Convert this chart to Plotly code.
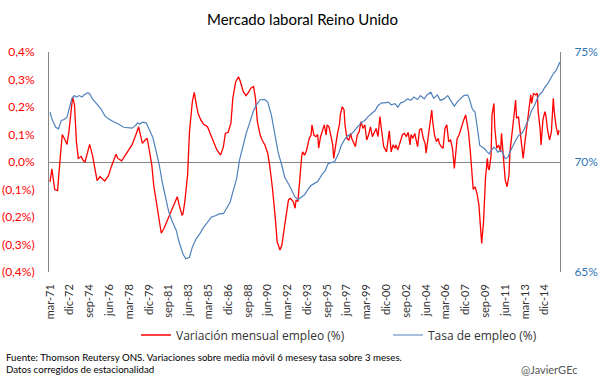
import pandas as pd
import plotly.graph_objects as go

# ---------------- DATA ----------------
start_month = "1971-03-01"

# months since Mar-1971 and monthly employment change (%) — red series
var_months = [0, 2, 5, 8, 11, 13, 16, 18, 20, 24, 26, 28, 30, 33, 35, 37, 40, 42, 45, 48,
              50, 53, 55, 58, 62, 65, 70, 72, 76, 80, 84, 87, 91, 94, 96, 98, 101, 103, 105, 108,
              110, 113, 116, 118, 121, 124, 127, 130, 133, 135, 137, 140, 141, 143, 146, 148, 151, 153, 155, 157,
              160, 163, 167, 170, 174, 177, 181, 184, 186, 189, 192, 194, 197, 200, 202, 205, 208, 210, 213, 216,
              218, 220, 223, 225, 228, 231, 233, 236, 239, 241, 244, 246, 248, 251, 253, 255, 258, 260, 261, 263,
              265, 267, 268, 270, 272, 275, 277, 278, 280, 282, 284, 285, 287, 289, 291, 293, 294, 296, 298, 300,
              301, 303, 305, 307, 308, 310, 312, 313, 315, 317, 319, 320, 322, 324, 326, 328, 330, 332, 334, 336,
              338, 340, 342, 344, 346, 348, 350, 352, 354, 357, 359, 360, 362, 364, 366, 367, 369, 371, 373, 374,
              376, 378, 380, 382, 383, 385, 387, 389, 390, 392, 394, 396, 398, 399, 401, 403, 405, 406, 408, 410,
              412, 413, 415, 417, 419, 421, 423, 425, 427, 429, 430, 432, 434, 436, 437, 439, 441, 442, 444, 446,
              448, 449, 451, 453, 455, 457, 458, 460, 462, 464, 465, 466, 468, 469, 471, 472, 474, 476, 478, 479,
              481, 483, 485, 487, 488, 490, 492, 494, 495, 497, 499, 501, 502, 504, 506, 508, 510, 511, 513, 515,
              517, 518, 520, 521, 523, 525, 526, 528, 530, 532, 534, 535, 537, 539, 540]
var_values = [-0.072, -0.025, -0.100, -0.104, 0.025, 0.100, 0.080, 0.064, 0.110, 0.237, 0.207, 0.074, 0.013, 0.020, 0.007, -0.001, 0.037, 0.064, 0.025, -0.041,
              -0.068, -0.053, -0.059, -0.069, -0.050, -0.017, 0.028, 0.013, 0.004, 0.025, 0.047, 0.062, 0.098, 0.128, 0.098, 0.068, 0.080, 0.086, 0.050, -0.011,
              -0.084, -0.156, -0.229, -0.259, -0.241, -0.217, -0.193, -0.168, -0.144, -0.126, -0.156, -0.193, -0.190, -0.144, -0.047, 0.110, 0.219, 0.253, 0.213, 0.177,
              0.153, 0.137, 0.128, 0.104, 0.074, 0.044, 0.025, 0.056, 0.104, 0.108, 0.141, 0.232, 0.292, 0.310, 0.292, 0.256, 0.241, 0.250, 0.268, 0.274,
              0.232, 0.147, 0.098, 0.080, 0.062, 0.032, -0.011, -0.096, -0.205, -0.290, -0.320, -0.302, -0.253, -0.181, -0.138, -0.132, -0.144, -0.168, -0.138, -0.144,
              -0.059, 0.020, 0.037, 0.025, 0.040, 0.086, 0.098, 0.135, 0.098, 0.092, 0.100, 0.050, 0.092, 0.116, 0.135, 0.098, 0.135, 0.128, 0.092, 0.062,
              0.013, 0.068, 0.104, 0.135, 0.171, 0.201, 0.189, 0.135, 0.086, 0.080, 0.104, 0.086, 0.068, 0.056, 0.098, 0.110, 0.147, 0.122, 0.135, 0.080,
              0.098, 0.128, 0.092, 0.110, 0.122, 0.092, 0.165, 0.110, 0.056, 0.037, 0.092, 0.113, 0.037, 0.062, 0.050, 0.062, 0.044, 0.068, 0.086, 0.100,
              0.104, 0.092, 0.108, 0.062, 0.100, 0.086, 0.104, 0.074, 0.056, 0.116, 0.122, 0.086, 0.068, 0.032, 0.086, 0.147, 0.189, 0.147, 0.098, 0.074,
              0.086, 0.068, 0.056, 0.050, 0.122, 0.135, 0.074, 0.080, 0.050, -0.023, 0.025, 0.086, 0.098, 0.122, 0.135, 0.153, 0.171, 0.147, 0.110, 0.037,
              -0.059, -0.100, -0.090, -0.114, -0.156, -0.229, -0.296, -0.217, -0.059, 0.013, -0.023, -0.029, 0.025, 0.171, 0.213, 0.122, 0.050, 0.062, 0.037, 0.104,
              0.025, -0.065, -0.090, -0.047, 0.037, 0.110, 0.159, 0.225, 0.159, 0.165, 0.098, 0.037, 0.013, 0.074, 0.135, 0.183, 0.244, 0.213, 0.250, 0.244,
              0.250, 0.183, 0.122, 0.062, 0.153, 0.183, 0.171, 0.116, 0.080, 0.110, 0.232, 0.183, 0.128, 0.098, 0.116]

# months since Mar-1971 and employment rate (%) — blue series
rate_months = [0, 2, 6, 9, 12, 15, 18, 20, 23, 26, 28, 31, 34, 36, 40, 42, 45, 48, 51, 54,
               58, 62, 67, 72, 78, 83, 87, 90, 93, 95, 98, 102, 105, 109, 112, 116, 119, 123, 126, 130,
               134, 137, 141, 144, 148, 151, 155, 159, 163, 167, 171, 176, 180, 184, 187, 191, 194, 198, 201, 205,
               208, 212, 216, 219, 223, 228, 231, 235, 239, 242, 246, 249, 253, 256, 260, 263, 267, 270, 274, 277,
               281, 284, 288, 292, 295, 299, 302, 306, 309, 313, 316, 320, 323, 327, 330, 334, 337, 341, 345, 348,
               352, 355, 359, 362, 366, 369, 372, 376, 379, 383, 386, 390, 393, 397, 400, 404, 407, 411, 414, 418,
               422, 425, 429, 432, 436, 439, 443, 445, 448, 451, 453, 456, 459, 461, 464, 466, 468, 471, 473, 475,
               478, 480, 483, 486, 488, 491, 494, 497, 500, 502, 505, 508, 511, 514, 517, 519, 522, 525, 528, 531,
               534, 537, 539, 541]
rate_values = [72.26, 71.96, 71.58, 71.51, 71.89, 71.93, 72.04, 72.34, 72.87, 73.02, 72.95, 73.02, 72.95, 73.05, 73.15, 73.10, 72.87, 72.72, 72.57, 72.42,
               72.11, 71.96, 71.84, 71.74, 71.58, 71.54, 71.54, 71.63, 71.78, 71.72, 71.81, 71.78, 71.51, 71.13, 70.60, 69.84, 69.08, 68.33, 67.72, 67.26,
               66.89, 66.35, 65.83, 65.60, 65.67, 66.13, 66.51, 66.74, 67.04, 67.26, 67.49, 67.57, 67.65, 67.65, 67.87, 68.17, 68.63, 69.24, 70.07, 70.75,
               71.28, 71.81, 72.34, 72.60, 72.83, 72.84, 72.72, 72.11, 71.20, 70.45, 69.84, 69.31, 69.01, 68.78, 68.40, 68.30, 68.40, 68.51, 68.78, 68.93,
               69.04, 69.11, 69.39, 69.61, 69.92, 69.99, 70.02, 70.37, 70.75, 71.05, 71.20, 71.28, 71.43, 71.58, 71.78, 71.89, 72.04, 72.19, 72.34, 72.57,
               72.69, 72.69, 72.72, 72.60, 72.65, 72.49, 72.69, 72.75, 72.87, 72.80, 72.95, 72.84, 73.02, 72.87, 73.05, 73.17, 72.90, 73.05, 72.80, 72.87,
               73.02, 72.80, 72.54, 72.72, 72.87, 73.02, 73.05, 72.87, 72.42, 72.26, 71.66, 70.75, 70.67, 70.60, 70.45, 70.37, 70.52, 70.67, 70.60, 70.45,
               70.52, 70.45, 70.15, 70.22, 70.45, 70.75, 70.98, 71.20, 71.28, 71.39, 71.66, 71.96, 72.34, 72.57, 72.87, 73.05, 73.17, 73.40, 73.55, 73.78,
               74.01, 74.16, 74.39, 74.54]

x_tick_labels = ["mar-71", "dic-72", "sep-74", "jun-76", "mar-78", "dic-79", "sep-81", "jun-83", "mar-85",
                 "dic-86", "sep-88", "jun-90", "mar-92", "dic-93", "sep-95", "jun-97", "mar-99", "dic-00",
                 "sep-02", "jun-04", "mar-06", "dic-07", "sep-09", "jun-11", "mar-13", "dic-14"]
x_tick_step_months = 21

left_tick_values = [-0.4, -0.3, -0.2, -0.1, 0.0, 0.1, 0.2, 0.3, 0.4]
left_tick_labels = ["(0,4%)", "(0,3%)", "(0,2%)", "(0,1%)", "0,0%", "0,1%", "0,2%", "0,3%", "0,4%"]
right_tick_values = [65, 70, 75]
right_tick_labels = ["65%", "70%", "75%"]

# ---------------- BUILD ----------------
t0 = pd.Timestamp(start_month)
def to_dates(months):
    return [t0 + pd.DateOffset(months=int(m)) for m in months]

var_dates = to_dates(var_months)
rate_dates = to_dates(rate_months)
tick_dates = to_dates([i * x_tick_step_months for i in range(len(x_tick_labels))])

FONT = "Lato, 'Open Sans', sans-serif"
LEG_FONT = "'Open Sans', Lato, sans-serif"
RED = "#FF0000"
BLUE_LINE = "#4F81BD"
BLUE_TXT = "#2E75B6"
GREY = "#868686"

fig = go.Figure()
fig.add_trace(go.Scatter(x=var_dates, y=var_values, mode="lines", name="Variación mensual empleo (%)",
                         line=dict(color=RED, width=1.3), yaxis="y", legend="legend"))
fig.add_trace(go.Scatter(x=rate_dates, y=rate_values, mode="lines", name="Tasa de empleo (%)",
                         line=dict(color=BLUE_LINE, width=1.2), yaxis="y2", legend="legend2"))

leg_common = dict(orientation="h", xref="container", yref="container", xanchor="left",
                  y=1 - 335 / 378, yanchor="middle", bgcolor="rgba(0,0,0,0)",
                  font=dict(family=LEG_FONT, size=12, color="#333333"))

fig.update_layout(
    width=605, height=378,
    margin=dict(l=49, r=45, t=52, b=106, autoexpand=False),
    paper_bgcolor="white", plot_bgcolor="white",
    font=dict(family=FONT, size=12, color="#333333"),
    title=dict(text="Mercado laboral Reino Unido", x=0.5, xref="container", xanchor="center",
               y=1 - 20 / 378, yanchor="middle", font=dict(family=FONT, size=15, color="#000000")),
    showlegend=True,
    legend=dict(x=136 / 605, **leg_common),
    legend2=dict(x=388 / 605, **leg_common),
    xaxis=dict(type="date", automargin=False,
               range=[t0 - pd.DateOffset(days=32), t0 + pd.DateOffset(months=541, days=3)],
               tickmode="array", tickvals=tick_dates, ticktext=x_tick_labels, tickangle=-90,
               ticks="", showgrid=False, showline=False, zeroline=False,
               ticklabelstandoff=9, tickfont=dict(size=11, color="#333333")),
    yaxis=dict(range=[-0.4, 0.4], automargin=False, tickmode="array", tickvals=left_tick_values,
               ticktext=left_tick_labels,
               showgrid=False, zeroline=True, zerolinecolor=GREY, zerolinewidth=1,
               showline=True, linecolor=GREY, linewidth=1, ticks="",
               ticklabelstandoff=11, tickfont=dict(size=12, color=RED)),
    yaxis2=dict(range=[65, 75], automargin=False, overlaying="y", side="right", tickmode="array",
                tickvals=right_tick_values, ticktext=right_tick_labels,
                showgrid=False, zeroline=False, showline=True, linecolor=GREY, linewidth=1, ticks="",
                ticklabelstandoff=11, tickfont=dict(size=12, color=BLUE_TXT)),
)

fig.add_annotation(text="Fuente: Thomson Reutersy ONS. Variaciones sobre media móvil 6 mesesy tasa sobre 3 meses.",
                   xref="paper", yref="paper", x=-0.088, y=-0.386, xanchor="left", yanchor="middle",
                   showarrow=False, font=dict(size=9.7, color="#000000"))
fig.add_annotation(text="Datos corregidos de estacionalidad",
                   xref="paper", yref="paper", x=-0.088, y=-0.441, xanchor="left", yanchor="middle",
                   showarrow=False, font=dict(size=9.7, color="#000000"))
fig.add_annotation(text="@JavierGEc",
                   xref="paper", yref="paper", x=1.039, y=-0.441, xanchor="right", yanchor="middle",
                   showarrow=False, font=dict(size=11, color="#595959"))

fig.write_html("out.html", config={"displayModeBar": False},
               post_script="document.body.style.margin='0px';")
